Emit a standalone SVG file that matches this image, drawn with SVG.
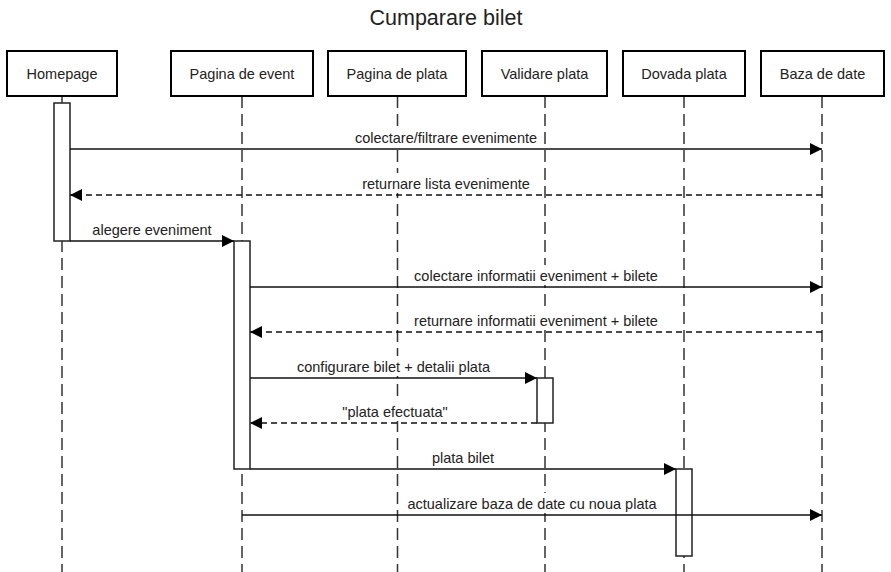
<svg xmlns="http://www.w3.org/2000/svg" width="891" height="572" viewBox="0 0 891 572">
<style>
.box{fill:#fff;stroke:#000;stroke-width:2}
.lbl{font-family:"Liberation Sans",Arial,sans-serif;font-size:14.5px;fill:#222;text-anchor:middle}
.bg{fill:#fff;stroke:none}
.life{stroke:#333;stroke-width:1.5;stroke-dasharray:12 6;fill:none}
.act{fill:#fff;stroke:#222;stroke-width:1.5}
.msg{stroke:#111;stroke-width:1.3;fill:none}
.ret{stroke:#111;stroke-width:1.3;fill:none;stroke-dasharray:6 4}
.title{font-family:"Liberation Sans",Arial,sans-serif;font-size:21.5px;fill:#222;text-anchor:middle}
</style>
<defs>
<marker id="ah" markerWidth="12" markerHeight="12" viewBox="0 0 12 12" refX="12" refY="6" orient="auto" markerUnits="userSpaceOnUse">
<path d="M0,0 L12,6 L0,12 Z" fill="#000"/>
</marker>
</defs>
<rect width="891" height="572" fill="#fff"/>
<text class="title" x="446" y="25">Cumparare bilet</text>

<g id="lifelines">
<line class="life" x1="62" y1="96" x2="62" y2="572"/>
<line class="life" x1="242" y1="96" x2="242" y2="572"/>
<line class="life" x1="397.5" y1="96" x2="397.5" y2="572"/>
<line class="life" x1="545" y1="96" x2="545" y2="572"/>
<line class="life" x1="684" y1="96" x2="684" y2="572"/>
<line class="life" x1="822" y1="96" x2="822" y2="572"/>
</g>

<g id="homepage"><rect class="box" x="7" y="51" width="110" height="45"/><text class="lbl" x="62" y="79">Homepage</text></g>
<g id="pagina-event"><rect class="box" x="171" y="51" width="142" height="45"/><text class="lbl" x="242" y="79">Pagina de event</text></g>
<g id="pagina-plata"><rect class="box" x="328" y="51" width="138" height="45"/><text class="lbl" x="397" y="79">Pagina de plata</text></g>
<g id="validare-plata"><rect class="box" x="482" y="51" width="125" height="45"/><text class="lbl" x="544.5" y="79">Validare plata</text></g>
<g id="dovada-plata"><rect class="box" x="623" y="51" width="122" height="45"/><text class="lbl" x="684" y="79">Dovada plata</text></g>
<g id="baza-date"><rect class="box" x="761" y="51" width="123" height="45"/><text class="lbl" x="822.5" y="79">Baza de date</text></g>

<g id="activations">
<rect class="act" x="54" y="103" width="16" height="138"/>
<rect class="act" x="234" y="241" width="16" height="228"/>
<rect class="act" x="537" y="378" width="16" height="45"/>
<rect class="act" x="676" y="469" width="16" height="87"/>
</g>

<g id="connectors">
<line class="msg" x1="70" y1="149" x2="822" y2="149" marker-end="url(#ah)"/>
<rect class="bg" x="353" y="127" width="186" height="20"/>
<text class="lbl" x="446" y="142.5">colectare/filtrare evenimente</text>
<line class="ret" x1="822" y1="195" x2="70" y2="195" marker-end="url(#ah)"/>
<rect class="bg" x="361" y="173" width="171" height="20"/>
<text class="lbl" x="446" y="188.5">returnare lista evenimente</text>
<line class="msg" x1="70" y1="241" x2="234" y2="241" marker-end="url(#ah)"/>
<rect class="bg" x="90" y="219" width="124" height="20"/>
<text class="lbl" x="152" y="234.5">alegere eveniment</text>
<line class="msg" x1="250" y1="287" x2="822" y2="287" marker-end="url(#ah)"/>
<rect class="bg" x="412" y="265" width="248" height="20"/>
<text class="lbl" x="536" y="280.5">colectare informatii eveniment + bilete</text>
<line class="ret" x1="822" y1="332" x2="250" y2="332" marker-end="url(#ah)"/>
<rect class="bg" x="412" y="310" width="248" height="20"/>
<text class="lbl" x="536" y="325.5">returnare informatii eveniment + bilete</text>
<line class="msg" x1="250" y1="378" x2="537" y2="378" marker-end="url(#ah)"/>
<rect class="bg" x="295" y="356" width="197" height="20"/>
<text class="lbl" x="393.5" y="371.5">configurare bilet + detalii plata</text>
<line class="ret" x1="537" y1="423" x2="250" y2="423" marker-end="url(#ah)"/>
<rect class="bg" x="340" y="401" width="110" height="20"/>
<text class="lbl" x="395" y="417">"plata efectuata"</text>
<line class="msg" x1="250" y1="469" x2="676" y2="469" marker-end="url(#ah)"/>
<rect class="bg" x="430" y="447" width="66" height="20"/>
<text class="lbl" x="463" y="462.5">plata bilet</text>
<line class="msg" x1="242" y1="515" x2="822" y2="515" marker-end="url(#ah)"/>
<rect class="bg" x="405" y="493" width="254" height="20"/>
<text class="lbl" x="532" y="508.5">actualizare baza de date cu noua plata</text>
</g>
</svg>
